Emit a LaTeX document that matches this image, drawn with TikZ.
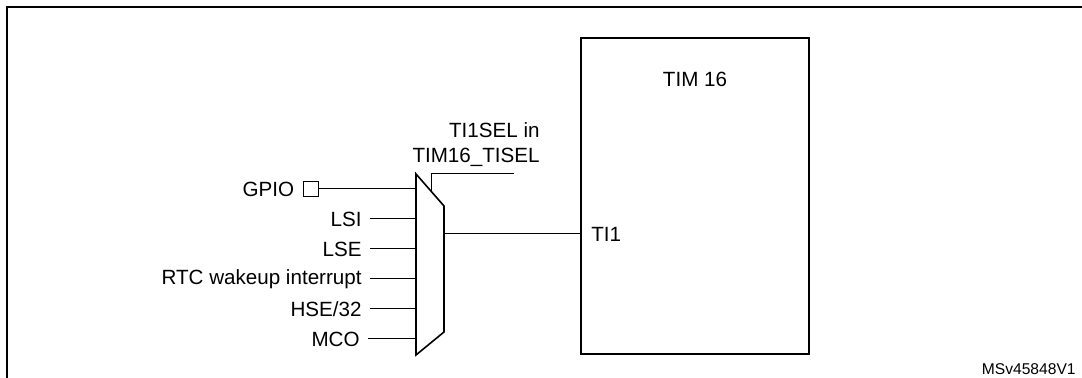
\documentclass[tikz,border=0pt]{standalone}
\usepackage{fontspec}
\setmainfont{Liberation Sans}
\usetikzlibrary{positioning}

\tikzset{
    sig/.style={line width=0.5pt},
    inlabel/.style={anchor=east, inner xsep=4pt, inner ysep=0pt, font=\fontsize{10.3}{12}\selectfont},
    boxline/.style={line width=1pt}
}

\begin{document}
\begin{tikzpicture}[x=0.5pt, y=-0.5pt]
            \useasboundingbox (0,0) rectangle (1082,378);

            % outer frame (cut by the page)
            \draw[line width=1.1pt] (7,378) -- (7,7) -- (1082,7);

            % timer block
            \draw[boxline] (581,38) rectangle (809,354);
            \node[font=\fontsize{10.3}{12}\selectfont] (tim) at (695,79) {TIM 16};
            \node[anchor=west, inner xsep=5pt, font=\fontsize{10.3}{12}\selectfont] (ti1) at (581,234) {TI1};

            % multiplexer
            \coordinate (muxtl) at (416,174);
            \coordinate (muxtr) at (444,206);
            \coordinate (muxbr) at (444,332);
            \coordinate (muxbl) at (416,355);
            \draw[line width=0.8pt] (muxtl) -- (muxtr) -- (muxbr) -- (muxbl) -- cycle;
            \coordinate (muxout) at (444,234);

            % select line
            \coordinate (selfoot) at (431,191);
            \coordinate (selcorner) at (431,174);
            \coordinate (selend) at (514,174);
            \draw[sig] (selfoot) -- (selcorner) -- (selend);
            \node[anchor=east, align=right, inner sep=0pt, font=\fontsize{10.3}{12.5}\selectfont] (selname) at (540,145) {TI1SEL in\\TIM16\_TISEL};

            % inputs
            \node[draw, line width=0.5pt, minimum size=7.5pt, inner sep=0pt] (pad) at (310.5,189) {};
            \node[inlabel] (gpio) at (pad.west) {GPIO};
            \draw[sig] (pad.east) -- (pad.east -| muxtl);

            \node[inlabel] (lsi) at (370,219) {LSI};
            \node[inlabel] (lse) at (370,249) {LSE};
            \node[inlabel] (rtc) at (370,279) {RTC wakeup interrupt};
            \node[inlabel] (hse) at (370,309) {HSE/32};
            \node[inlabel] (mco) at (368,339) {MCO};
            \foreach \src in {lsi, lse, rtc, hse, mco}
                \draw[sig] (\src.east) -- (\src.east -| muxtl);

            % output
            \draw[sig] (muxout) -- (ti1.west);

            \node[anchor=south east, inner sep=0pt, font=\fontsize{7.8}{9}\selectfont] (ref) at (1076,375) {MSv45848V1};
        \end{tikzpicture}
\end{document}
